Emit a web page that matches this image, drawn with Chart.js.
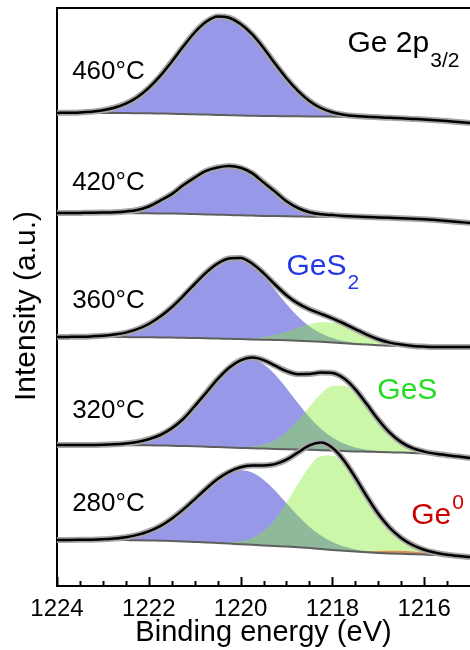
<!DOCTYPE html>
<html>
<head>
<meta charset="utf-8">
<script src="https://cdn.jsdelivr.net/npm/chart.js@4.4.1/dist/chart.umd.min.js"></script>
<style>
  html, body { margin: 0; padding: 0; background: #fff; }
</style>
</head>
<body>
<canvas id="canvas" width="470" height="650"></canvas>
<script>
// binding energy grid (eV)
var energies = [1224, 1223.75, 1223.5, 1223.25, 1223, 1222.75, 1222.5, 1222.25, 1222, 1221.75,
  1221.5, 1221.25, 1221, 1220.75, 1220.5, 1220.25, 1220, 1219.75, 1219.5, 1219.25,
  1219, 1218.75, 1218.5, 1218.25, 1218, 1217.75, 1217.5, 1217.25, 1217, 1216.75,
  1216.5, 1216.25, 1216, 1215.75, 1215.5, 1215.25, 1215];

var temperatures = ['460°C', '420°C', '360°C', '320°C', '280°C'];
// vertical offset of each spectrum (a.u.)
var offsets = [463, 363, 239, 128, 29];
var labelHeights = [514, 403, 285, 175, 82];

// 460°C
var bg460 = [10, 10, 10, 10, 10, 9.95, 9.9, 9.8, 9.7, 9.5, 9.3, 9.0, 8.7, 8.4, 8.1, 7.8, 7.5, 7.3, 7.1, 6.9,
  6.8, 6.7, 6.6, 6.5, 6.4, 6.3, 6.1, 5.9, 5.6, 5.2, 4.7, 4.1, 3.5, 2.8, 2.0, 1.0, 0];
var gs2_460 = [0.1, 0.3, 0.6, 1.3, 2.7, 5.3, 9.5, 16, 25.4, 37.6, 52, 67.4, 81.8, 92.8, 98.5, 97.5, 91.5, 81.5, 68, 52.5,
  38, 25.5, 15.5, 8.5, 4.3, 2, 0.9, 0.4, 0.1, 0, 0, 0, 0, 0, 0, 0, 0];

// 420°C
var bg420 = [10, 10, 10, 10, 10, 9.95, 9.9, 9.8, 9.7, 9.55, 9.4, 9.2, 8.9, 8.6, 8.3, 8.0, 7.7, 7.4, 7.1, 6.9,
  6.7, 6.5, 6.3, 6.2, 6.1, 6.0, 5.9, 5.7, 5.5, 5.2, 4.8, 4.3, 3.7, 3.0, 2.1, 1.1, 0];
var gs2_420 = [0, 0, 0.1, 0.2, 0.4, 0.8, 1.6, 3.2, 6.8, 12.9, 19.5, 28.5, 36.5, 43.5, 47.2, 49, 47.5, 42.5, 33.5, 24.5,
  15, 8.5, 4.5, 2.5, 1.8, 1.1, 0.6, 0.3, 0.1, 0, 0, 0, 0, 0, 0, 0, 0];

// 360°C
var bg360 = [10, 10, 10, 10, 10, 10, 9.9, 9.8, 9.7, 9.6, 9.4, 9.2, 9.0, 8.8, 8.5, 8.2, 7.9, 7.6, 7.3, 7.0,
  6.7, 6.3, 5.8, 5.2, 4.5, 3.8, 3.1, 2.4, 1.8, 1.3, 0.9, 0.5, 0.2, 0, 0, 0, 0];
var gs2_360 = [0, 0.1, 0.25, 0.6, 1.2, 2.4, 4.5, 8.0, 13.3, 20.8, 30.4, 41.8, 54, 65.6, 74.8, 80.1, 80.5, 74.7, 63.9, 50.3,
  36.4, 24.3, 14.9, 8.5, 4.4, 2.1, 0.9, 0.4, 0.15, 0, 0, 0, 0, 0, 0, 0, 0];
var gs_360 = [0, 0, 0, 0, 0, 0, 0, 0, 0, 0, 0, 0, 0, 0, 0.06, 0.2, 0.5, 1.2, 2.7, 5.2,
  8.7, 13, 17, 19.5, 19.8, 17.6, 13.9, 9.6, 5.8, 3.1, 1.5, 0.6, 0.2, 0, 0, 0, 0];

// 320°C
var bg320 = [13, 13, 13, 13, 13, 13, 12.9, 12.8, 12.7, 12.5, 12.3, 12.0, 11.7, 11.3, 10.9, 10.5, 10.1, 9.7, 9.4, 9.1,
  8.8, 8.5, 8.2, 7.8, 7.4, 7.0, 6.6, 6.3, 6.0, 5.7, 5.4, 5.0, 4.4, 3.6, 2.6, 1.4, 0];
var gs2_320 = [0, 0, 0.05, 0.12, 0.3, 0.7, 1.6, 3.2, 6.1, 10.5, 17.3, 27, 40.1, 54, 67.9, 79.6, 87, 89, 84.4, 74.4,
  61, 46.4, 32.8, 21.5, 13.1, 7.4, 3.9, 1.9, 0.9, 0.4, 0.15, 0, 0, 0, 0, 0, 0];
var gs_320 = [0, 0, 0, 0, 0, 0, 0, 0, 0, 0, 0, 0, 0, 0, 0.05, 0.18, 0.6, 1.7, 4.1, 8.9,
  17.1, 28.9, 42.9, 56.1, 64.5, 65.3, 58.2, 45.7, 31.6, 19.2, 10.3, 4.8, 2.0, 0.7, 0.2, 0, 0];

// 280°C
var bg280 = [17, 17, 17, 17, 17, 17, 16.9, 16.8, 16.6, 16.3, 16.0, 15.6, 15.1, 14.6, 14.0, 13.4, 12.8, 12.2, 11.6, 11.0,
  10.4, 9.7, 8.9, 8.0, 7.1, 6.2, 5.4, 4.7, 4.1, 3.6, 3.2, 2.8, 2.4, 1.9, 1.4, 0.7, 0];
var gs2_280 = [0, 0.05, 0.14, 0.3, 0.7, 1.5, 2.9, 5.3, 9.1, 14.6, 22.3, 31.8, 42.6, 53.7, 63.6, 70.7, 74, 72.3, 65.7, 55.4,
  43.4, 31.6, 21.4, 13.4, 7.8, 4.2, 2.1, 1.0, 0.4, 0.15, 0, 0, 0, 0, 0, 0, 0];
var gs_280 = [0, 0, 0, 0, 0, 0, 0, 0, 0, 0, 0, 0, 0, 0, 0.4, 1.1, 2.9, 6.9, 14.3, 26.5,
  43.5, 63.2, 81.4, 93, 94.3, 86.3, 71.7, 54, 36.9, 22.9, 12.9, 6.6, 3.0, 1.3, 0.5, 0.2, 0];
var ge0_280 = [0, 0, 0, 0, 0, 0, 0, 0, 0, 0, 0, 0, 0, 0, 0, 0, 0, 0, 0, 0,
  0, 0, 0, 0, 0, 0.13, 0.4, 1.0, 1.8, 2.6, 3, 2.6, 1.8, 1.0, 0.4, 0.1, 0];

var tickValues = [1224, 1223.5, 1223, 1222.5, 1222, 1221.5, 1221, 1220.5, 1220, 1219.5,
  1219, 1218.5, 1218, 1217.5, 1217, 1216.5, 1216, 1215.5];
var labelValues = [1224, 1222, 1220, 1218, 1216];

var FONT = "'Liberation Sans', Arial, sans-serif";

var spectra = [
  { bg: bg460, comps: [['gs2', gs2_460]] },
  { bg: bg420, comps: [['gs2', gs2_420]] },
  { bg: bg360, comps: [['gs2', gs2_360], ['gs', gs_360]] },
  { bg: bg320, comps: [['gs2', gs2_320], ['gs', gs_320]] },
  { bg: bg280, comps: [['gs2', gs2_280], ['gs', gs_280], ['ge', ge0_280]] }
];

var fillColors = {
  gs2: 'rgb(152,152,232)',
  gs: 'rgba(127,235,37,0.4)',
  ge: 'rgba(225,110,70,0.75)'
};
var layerRank = { gs2: 0, gs: 1, ge: 2 };

function toPoints(vals) {
  return energies.map(function (e, i) { return { x: e, y: vals[i] }; });
}

var datasets = [];
spectra.forEach(function (s, k) {
  var off = offsets[k];
  var base = s.bg.map(function (v) { return v + off; });
  var env = base.slice();
  var bgIndex = datasets.length;
  datasets.push({
    data: toPoints(base), borderColor: '#5f5f5f', borderWidth: 2, fill: false,
    order: 1000 - (k * 10 + 3)
  });
  s.comps.forEach(function (c) {
    var vals = base.map(function (b, i) { return b + c[1][i]; });
    c[1].forEach(function (v, i) { env[i] += v; });
    datasets.push({
      data: toPoints(vals), borderColor: 'rgba(0,0,0,0)', borderWidth: 0,
      backgroundColor: fillColors[c[0]], fill: bgIndex,
      order: 1000 - (k * 10 + layerRank[c[0]])
    });
  });
  datasets.push({
    data: toPoints(env), borderColor: 'rgba(165,165,165,1)', borderWidth: 6, fill: false,
    order: 1000 - (k * 10 + 4)
  });
  datasets.push({
    data: toPoints(env), borderColor: '#000', borderWidth: 2.5, fill: false,
    order: 1000 - (k * 10 + 5)
  });
});

// text labels, placed in data coordinates
var annotations = [
  { text: 'Ge 2p', small: '3/2', shift: 17, e: 1217.67, y: 542, color: '#000' },
  { text: 'GeS', small: '2', shift: 16, e: 1219.0, y: 319, color: '#2438e8' },
  { text: 'GeS', small: '', shift: 0, e: 1217.02, y: 195, color: '#22dd22' },
  { text: 'Ge', small: '0', shift: -13, e: 1216.28, y: 70, color: '#cc0000' }
];

var decor = {
  id: 'decor',
  afterDraw: function (chart) {
    var ctx = chart.ctx, a = chart.chartArea;
    var xs = chart.scales.x, ys = chart.scales.y;
    ctx.save();
    ctx.strokeStyle = '#000';
    ctx.lineWidth = 2;
    ctx.beginPath();
    ctx.moveTo(a.left - 1, a.top);
    ctx.lineTo(a.right, a.top);
    ctx.stroke();
    tickValues.forEach(function (v) {
      var px = Math.round(xs.getPixelForValue(v)) + 0.5;
      var len = labelValues.indexOf(v) >= 0 ? 9 : 5;
      ctx.beginPath();
      ctx.moveTo(px, a.bottom);
      ctx.lineTo(px, a.bottom - len);
      ctx.stroke();
    });
    ctx.textBaseline = 'middle';
    ctx.textAlign = 'left';
    ctx.fillStyle = '#000';
    ctx.font = '26px ' + FONT;
    temperatures.forEach(function (t, k) {
      ctx.fillText(t, xs.getPixelForValue(1223.67), ys.getPixelForValue(labelHeights[k]));
    });
    annotations.forEach(function (n) {
      var x = xs.getPixelForValue(n.e), y = ys.getPixelForValue(n.y);
      ctx.fillStyle = n.color;
      ctx.font = '30px ' + FONT;
      ctx.fillText(n.text, x, y);
      if (n.small) {
        var w = ctx.measureText(n.text).width;
        ctx.font = '21px ' + FONT;
        ctx.fillText(n.small, x + w + 1, y + n.shift);
      }
    });
    // y axis title
    ctx.fillStyle = '#000';
    ctx.font = '30px ' + FONT;
    ctx.textAlign = 'center';
    ctx.translate(27, (a.top + a.bottom) / 2 + 9);
    ctx.rotate(-Math.PI / 2);
    ctx.fillText('Intensity (a.u.)', 0, 0);
    ctx.restore();
  }
};

var ctx = document.getElementById('canvas').getContext('2d');
var chart = new Chart(ctx, {
  type: 'line',
  data: { datasets: datasets },
  options: {
    responsive: false,
    animation: false,
    devicePixelRatio: 1,
    layout: { padding: { left: 0, right: 0, top: 8, bottom: 0 } },
    elements: {
      point: { radius: 0 },
      line: { cubicInterpolationMode: 'monotone' }
    },
    plugins: { legend: { display: false }, tooltip: { enabled: false } },
    scales: {
      x: {
        type: 'linear', reverse: true, min: 1215, max: 1224,
        afterBuildTicks: function (scale) {
          scale.ticks = tickValues.map(function (v) { return { value: v }; });
        },
        afterFit: function (scale) { scale.height = 64; },
        ticks: {
          autoSkip: false, maxRotation: 0, padding: 1, color: '#000',
          font: { family: FONT, size: 24 },
          callback: function (v) { return labelValues.indexOf(v) >= 0 ? String(v) : ''; }
        },
        grid: { display: false },
        border: { display: true, color: '#000', width: 2 },
        title: {
          display: true, text: 'Binding energy (eV)', color: '#000',
          font: { family: FONT, size: 29 }, padding: { top: 0, bottom: 0 }
        }
      },
      y: {
        min: 0, max: 578,
        afterFit: function (scale) { scale.width = 57; },
        ticks: { display: false },
        grid: { display: false },
        border: { display: true, color: '#000', width: 2 },
        title: { display: false }
      }
    }
  },
  plugins: [decor]
});
</script>
</body>
</html>
